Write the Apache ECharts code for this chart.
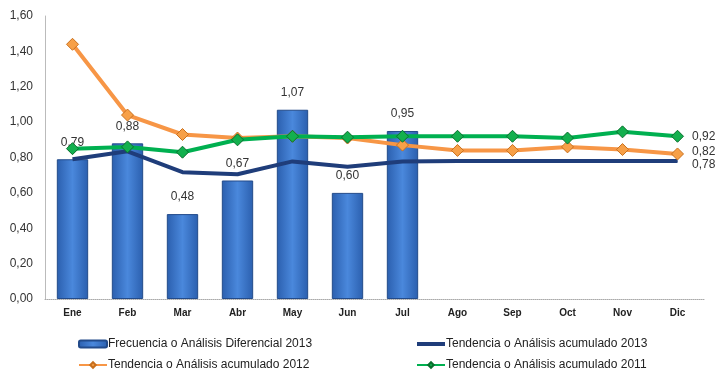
<!DOCTYPE html>
<html><head><meta charset="utf-8">
<script src="https://cdn.jsdelivr.net/npm/echarts@6/dist/echarts.min.js"></script>
<style>html,body{margin:0;padding:0;background:#fff}#c{width:722px;height:385px}</style>
</head><body><div id="c"></div>
<script>
const categories = ['Ene','Feb','Mar','Abr','May','Jun','Jul','Ago','Sep','Oct','Nov','Dic'];
const frecuencia2013 = [0.79,0.88,0.48,0.67,1.07,0.60,0.95,null,null,null,null,null];
const acumulado2013 = [0.79,0.835,0.717,0.705,0.778,0.748,0.777,0.78,0.78,0.78,0.78,0.78];
const acumulado2012 = [1.44,1.04,0.93,0.91,0.92,0.91,0.87,0.84,0.84,0.86,0.845,0.82];
const acumulado2011 = [0.85,0.86,0.83,0.90,0.92,0.915,0.92,0.92,0.92,0.91,0.945,0.92];
const yTicks = ['0,00','0,20','0,40','0,60','0,80','1,00','1,20','1,40','1,60'];
const names = ['Frecuencia o Análisis Diferencial 2013','Tendencia o Análisis acumulado 2013','Tendencia o Análisis acumulado 2012','Tendencia o Análisis acumulado 2011'];

const FONT = 'Liberation Sans';
const fmt = v => v.toFixed(2).replace('.', ',');
const lastLabel = (arr, dy, dist, extra) => arr.map((v, i) => i === arr.length - 1
  ? Object.assign({value: v, label: {show: true, position: 'right', distance: dist || 8, offset: [0, dy || 0],
      formatter: p => fmt(Math.round(p.value*100)/100), color: '#333', fontSize: 12, fontFamily: FONT}}, extra || {})
  : v);

const chart = echarts.init(document.getElementById('c'));
chart.setOption({
  animation: false,
  grid: {left: 45, right: 17, top: 16, bottom: 86},
  xAxis: {
    type: 'category', data: categories,
    axisLine: {lineStyle: {color: '#aaa', type: 'dotted'}},
    axisTick: {show: false},
    axisLabel: {color: '#222', fontSize: 10, fontWeight: 'bold', fontFamily: FONT, margin: 9}
  },
  yAxis: {
    type: 'value', min: 0, max: 1.6, interval: 0.2,
    axisLine: {show: true, lineStyle: {color: '#bbb'}},
    axisTick: {show: false},
    splitLine: {show: false},
    axisLabel: {color: '#333', fontSize: 12, fontFamily: FONT, margin: 12,
      formatter: v => yTicks[Math.round(v / 0.2)]}
  },
  legend: [
    {data: [names[0], names[2]], orient: 'vertical', left: 73, top: 333, itemGap: 9,
      itemWidth: 28, itemHeight: 7, textStyle: {fontSize: 12, fontFamily: FONT, color: '#222', padding: [0,0,0,-4]}},
    {data: [{name: names[1], icon: 'path://M0,0L28,0L28,4L0,4Z'}, names[3]], orient: 'vertical', left: 411, top: 333, itemGap: 9,
      itemWidth: 28, itemHeight: 7, textStyle: {fontSize: 12, fontFamily: FONT, color: '#222', padding: [0,0,0,-4]}}
  ],
  series: [
    {
      name: names[0], type: 'bar', data: frecuencia2013, barWidth: '57%',
      itemStyle: {
        color: new echarts.graphic.LinearGradient(0, 0, 1, 0, [
          {offset: 0, color: '#2b5fae'}, {offset: 0.5, color: '#4a88dc'}, {offset: 1, color: '#2b5fae'}]),
        borderColor: '#234b8a', borderWidth: 1
      },
      label: {show: true, position: 'top', distance: 11, color: '#333', fontSize: 12, fontFamily: FONT,
        formatter: p => fmt(p.value)},
      z: 1
    },
    {
      name: names[1], type: 'line', data: lastLabel(acumulado2013, 4, 14, {symbol: 'circle', symbolSize: 1}),
      symbol: 'none',
      lineStyle: {color: '#1f3d7a', width: 4}, itemStyle: {color: '#1f3d7a'}, z: 2
    },
    {
      name: names[2], type: 'line', data: lastLabel(acumulado2012, -2), symbol: 'diamond', symbolSize: 12,
      lineStyle: {color: '#f79646', width: 4},
      itemStyle: {color: '#f7a048', borderColor: '#c8701e', borderWidth: 1}, z: 3
    },
    {
      name: names[3], type: 'line', data: lastLabel(acumulado2011), symbol: 'diamond', symbolSize: 12,
      lineStyle: {color: '#00b050', width: 4},
      itemStyle: {color: '#13b04e', borderColor: '#0a6e2e', borderWidth: 1}, z: 4
    }
  ]
});
</script></body></html>
